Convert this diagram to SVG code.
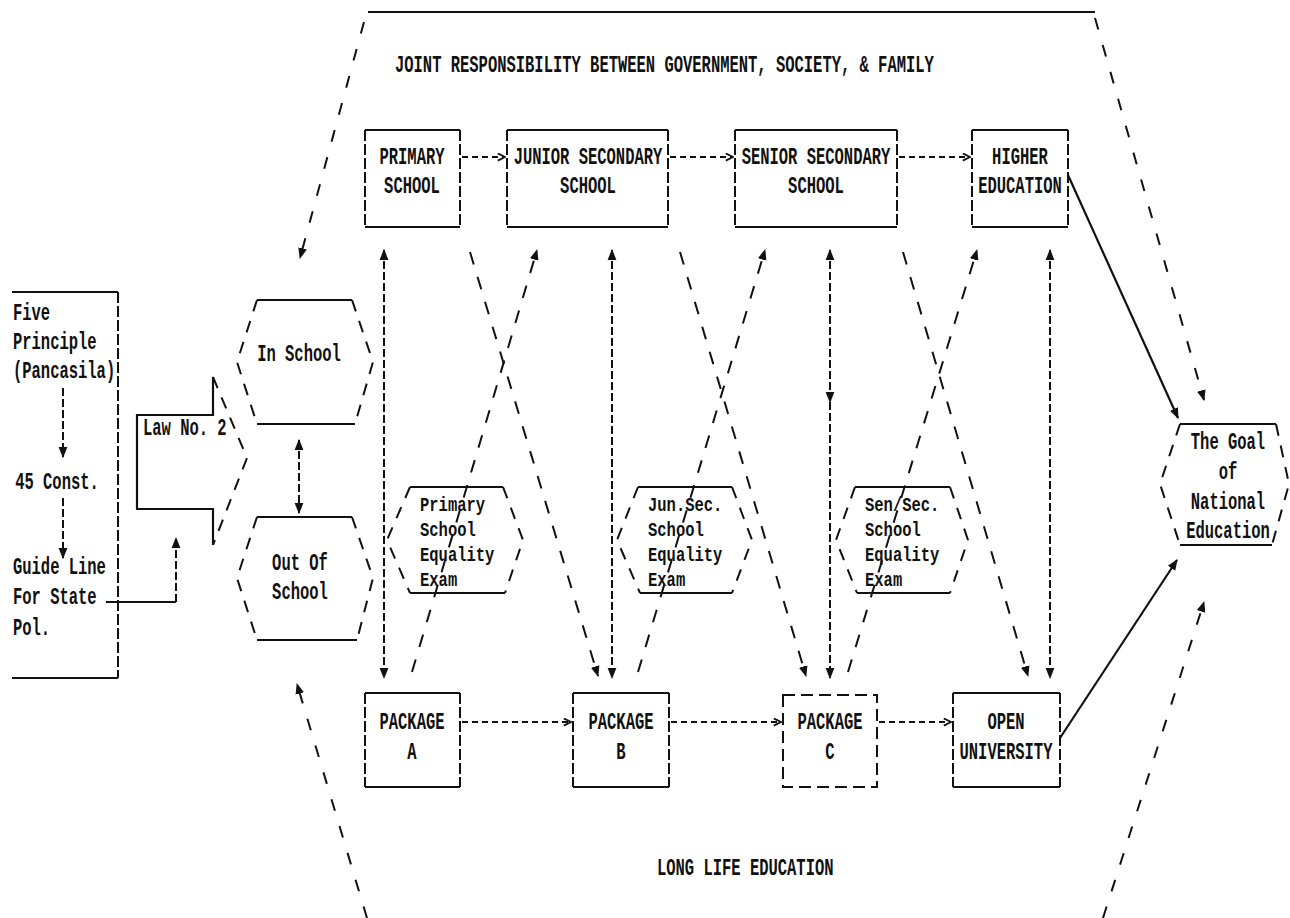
<svg xmlns="http://www.w3.org/2000/svg" width="1290" height="918" viewBox="0 0 1290 918">
<defs>
<style>
.t{font-family:"Liberation Mono","DejaVu Sans Mono",monospace;font-size:15.5px;font-weight:bold;fill:#111;dominant-baseline:central;transform-box:fill-box;transform-origin:center;transform:scaleY(1.6)}
.e{transform:scaleY(1.35)}
.m{text-anchor:middle}
.s{fill:none;stroke:#111;stroke-width:2.2}
.d{fill:none;stroke:#111;stroke-width:2;stroke-dasharray:11 3}
.dd{fill:none;stroke:#111;stroke-width:2;stroke-dasharray:12 6}
.h{fill:none;stroke:#111;stroke-width:2;stroke-dasharray:12 10}
.c{fill:none;stroke:#111;stroke-width:2;stroke-dasharray:6 4}
.v{fill:none;stroke:#111;stroke-width:2;stroke-dasharray:8 3}
.x{fill:none;stroke:#111;stroke-width:2;stroke-dasharray:13 13}
.o{fill:none;stroke:#111;stroke-width:2;stroke-dasharray:12 16}
</style>
<marker id="tri" viewBox="0 0 10 10" refX="9" refY="5" markerWidth="11" markerHeight="11" markerUnits="userSpaceOnUse" orient="auto-start-reverse"><path d="M0,1 L10,5 L0,9 z" fill="#111"/></marker>
<marker id="chev" viewBox="0 0 10 10" refX="9" refY="5" markerWidth="9" markerHeight="9" markerUnits="userSpaceOnUse" orient="auto"><path d="M1,1 L9,5 L1,9" fill="none" stroke="#111" stroke-width="2"/></marker>
</defs>

<g id="frame">
<path class="s" d="M368,12 H1095"/>
<text class="t" x="395" y="65">JOINT RESPONSIBILITY BETWEEN GOVERNMENT, SOCIETY, &amp; FAMILY</text>
<text class="t" x="657" y="868">LONG LIFE EDUCATION</text>
</g>

<g id="n-foundation">
<path class="s" d="M12,292 H118"/>
<path class="d" d="M118,292 V678"/>
<path class="s" d="M12,678 H118"/>
<text class="t" x="13" y="313">Five</text>
<text class="t" x="13" y="342">Principle</text>
<text class="t" x="13" y="371">(Pancasila)</text>
<text class="t m" x="57" y="482">45 Const.</text>
<text class="t" x="13" y="567">Guide Line</text>
<text class="t" x="13" y="597">For State</text>
<text class="t" x="13" y="628">Pol.</text>
</g>

<g id="n-law">
<path class="s" d="M213,377 V415 H137 V509 H213 V545"/>
<path class="h" d="M213,377 L247,458 L213,545"/>
<text class="t" x="143" y="428">Law No. 2</text>
</g>

<g id="n-inschool">
<path class="s" d="M257,300 H352 M257,424 H355"/>
<path class="h" d="M257,300 L237,362 L257,424 M352,300 L373,362 L355,424"/>
<text class="t m" x="299" y="354">In School</text>
</g>

<g id="n-outschool">
<path class="s" d="M257,517 H352 M257,640 H357"/>
<path class="h" d="M257,517 L237,578 L257,640 M352,517 L373,578 L357,640"/>
<text class="t m" x="300" y="563">Out Of</text>
<text class="t m" x="300" y="592">School</text>
</g>

<g id="n-primary">
<path class="s" d="M365,130 H460 M365,227 H460"/>
<path class="d" d="M365,130 V227 M460,130 V227"/>
<text class="t m" x="412" y="157">PRIMARY</text>
<text class="t m" x="412" y="186">SCHOOL</text>
</g>
<g id="n-junior">
<path class="s" d="M507,130 H668 M507,227 H668"/>
<path class="d" d="M507,130 V227 M668,130 V227"/>
<text class="t m" x="588" y="157">JUNIOR SECONDARY</text>
<text class="t m" x="588" y="186">SCHOOL</text>
</g>
<g id="n-senior">
<path class="s" d="M735,130 H897 M735,227 H897"/>
<path class="d" d="M735,130 V227 M897,130 V227"/>
<text class="t m" x="816" y="157">SENIOR SECONDARY</text>
<text class="t m" x="816" y="186">SCHOOL</text>
</g>
<g id="n-higher">
<path class="s" d="M972,130 H1068 M972,227 H1068"/>
<path class="d" d="M972,130 V227 M1068,130 V227"/>
<text class="t m" x="1020" y="157">HIGHER</text>
<text class="t m" x="1020" y="186">EDUCATION</text>
</g>

<g id="n-exam-primary">
<path class="s" d="M410,487 H503 M410,593 H505"/>
<path class="h" d="M410,487 L387,540 L410,593 M503,487 L523,540 L505,593"/>
<text class="t e" x="420" y="506">Primary</text>
<text class="t e" x="420" y="531">School</text>
<text class="t e" x="420" y="556">Equality</text>
<text class="t e" x="420" y="581">Exam</text>
</g>
<g id="n-exam-junior">
<path class="s" d="M638,487 H732 M640,593 H732"/>
<path class="h" d="M638,487 L617,540 L640,593 M732,487 L752,540 L732,593"/>
<text class="t e" x="648" y="506">Jun.Sec.</text>
<text class="t e" x="648" y="531">School</text>
<text class="t e" x="648" y="556">Equality</text>
<text class="t e" x="648" y="581">Exam</text>
</g>
<g id="n-exam-senior">
<path class="s" d="M855,487 H950 M857,593 H950"/>
<path class="h" d="M855,487 L836,540 L857,593 M950,487 L968,540 L950,593"/>
<text class="t e" x="865" y="506">Sen/Sec.</text>
<text class="t e" x="865" y="531">School</text>
<text class="t e" x="865" y="556">Equality</text>
<text class="t e" x="865" y="581">Exam</text>
</g>

<g id="n-package-a">
<path class="s" d="M365,693 H460 M365,787 H460"/>
<path class="d" d="M365,693 V787 M460,693 V787"/>
<text class="t m" x="412" y="722">PACKAGE</text>
<text class="t m" x="412" y="752">A</text>
</g>
<g id="n-package-b">
<path class="s" d="M573,693 H669 M573,787 H669"/>
<path class="d" d="M573,693 V787 M669,693 V787"/>
<text class="t m" x="621" y="722">PACKAGE</text>
<text class="t m" x="621" y="752">B</text>
</g>
<g id="n-package-c">
<path class="dd" d="M783,695 H877 V787 H783 Z"/>
<text class="t m" x="830" y="722">PACKAGE</text>
<text class="t m" x="830" y="752">C</text>
</g>
<g id="n-open">
<path class="s" d="M953,693 H1060 M953,787 H1060"/>
<path class="d" d="M953,693 V787 M1060,693 V787"/>
<text class="t m" x="1006" y="722">OPEN</text>
<text class="t m" x="1006" y="752">UNIVERSITY</text>
</g>

<g id="n-goal">
<path class="s" d="M1180,424 H1276 M1180,545 H1272"/>
<path class="h" d="M1180,424 L1160,484 L1180,545 M1276,424 L1289,484 L1272,545"/>
<text class="t m" x="1228" y="442">The Goal</text>
<text class="t m" x="1228" y="472">of</text>
<text class="t m" x="1228" y="502">National</text>
<text class="t m" x="1228" y="531">Education</text>
</g>

<g id="connectors">
<path class="v" d="M63,388 V457" marker-end="url(#tri)"/>
<path class="v" d="M63,498 V558" marker-end="url(#tri)"/>
<path class="s" d="M106,602 H176"/>
<path class="v" d="M176,602 V538" marker-end="url(#tri)"/>
<path class="v" d="M299,440 V513" marker-start="url(#tri)" marker-end="url(#tri)"/>
<path class="c" d="M462,157 H505" marker-end="url(#chev)"/>
<path class="c" d="M670,157 H733" marker-end="url(#chev)"/>
<path class="c" d="M899,157 H970" marker-end="url(#chev)"/>
<path class="c" d="M462,722 H571" marker-end="url(#chev)"/>
<path class="c" d="M671,722 H781" marker-end="url(#chev)"/>
<path class="c" d="M879,722 H951" marker-end="url(#chev)"/>
<path class="v" d="M384,250 V678" marker-start="url(#tri)" marker-end="url(#tri)"/>
<path class="v" d="M612,250 V678" marker-start="url(#tri)" marker-end="url(#tri)"/>
<path class="v" d="M830,250 V402" marker-start="url(#tri)" marker-end="url(#tri)"/>
<path class="v" d="M830,402 V678" marker-end="url(#tri)"/>
<path class="v" d="M1050,250 V678" marker-start="url(#tri)" marker-end="url(#tri)"/>
<path class="x" d="M470,252 L598,676" marker-end="url(#tri)"/>
<path class="x" d="M412,672 L537,250" marker-end="url(#tri)"/>
<path class="x" d="M680,252 L806,676" marker-end="url(#tri)"/>
<path class="x" d="M638,672 L765,250" marker-end="url(#tri)"/>
<path class="x" d="M903,252 L1028,676" marker-end="url(#tri)"/>
<path class="x" d="M848,672 L977,250" marker-end="url(#tri)"/>
<path class="o" d="M364,22 L300,258" marker-end="url(#tri)"/>
<path class="o" d="M1095,18 L1204,400" marker-end="url(#tri)"/>
<path class="o" d="M367,918 L297,684" marker-end="url(#tri)"/>
<path class="o" d="M1103,918 L1204,602" marker-end="url(#tri)"/>
<path class="s" d="M1068,175 L1178,418" marker-end="url(#tri)"/>
<path class="s" d="M1060,738 L1177,560" marker-end="url(#tri)"/>
</g>
</svg>
